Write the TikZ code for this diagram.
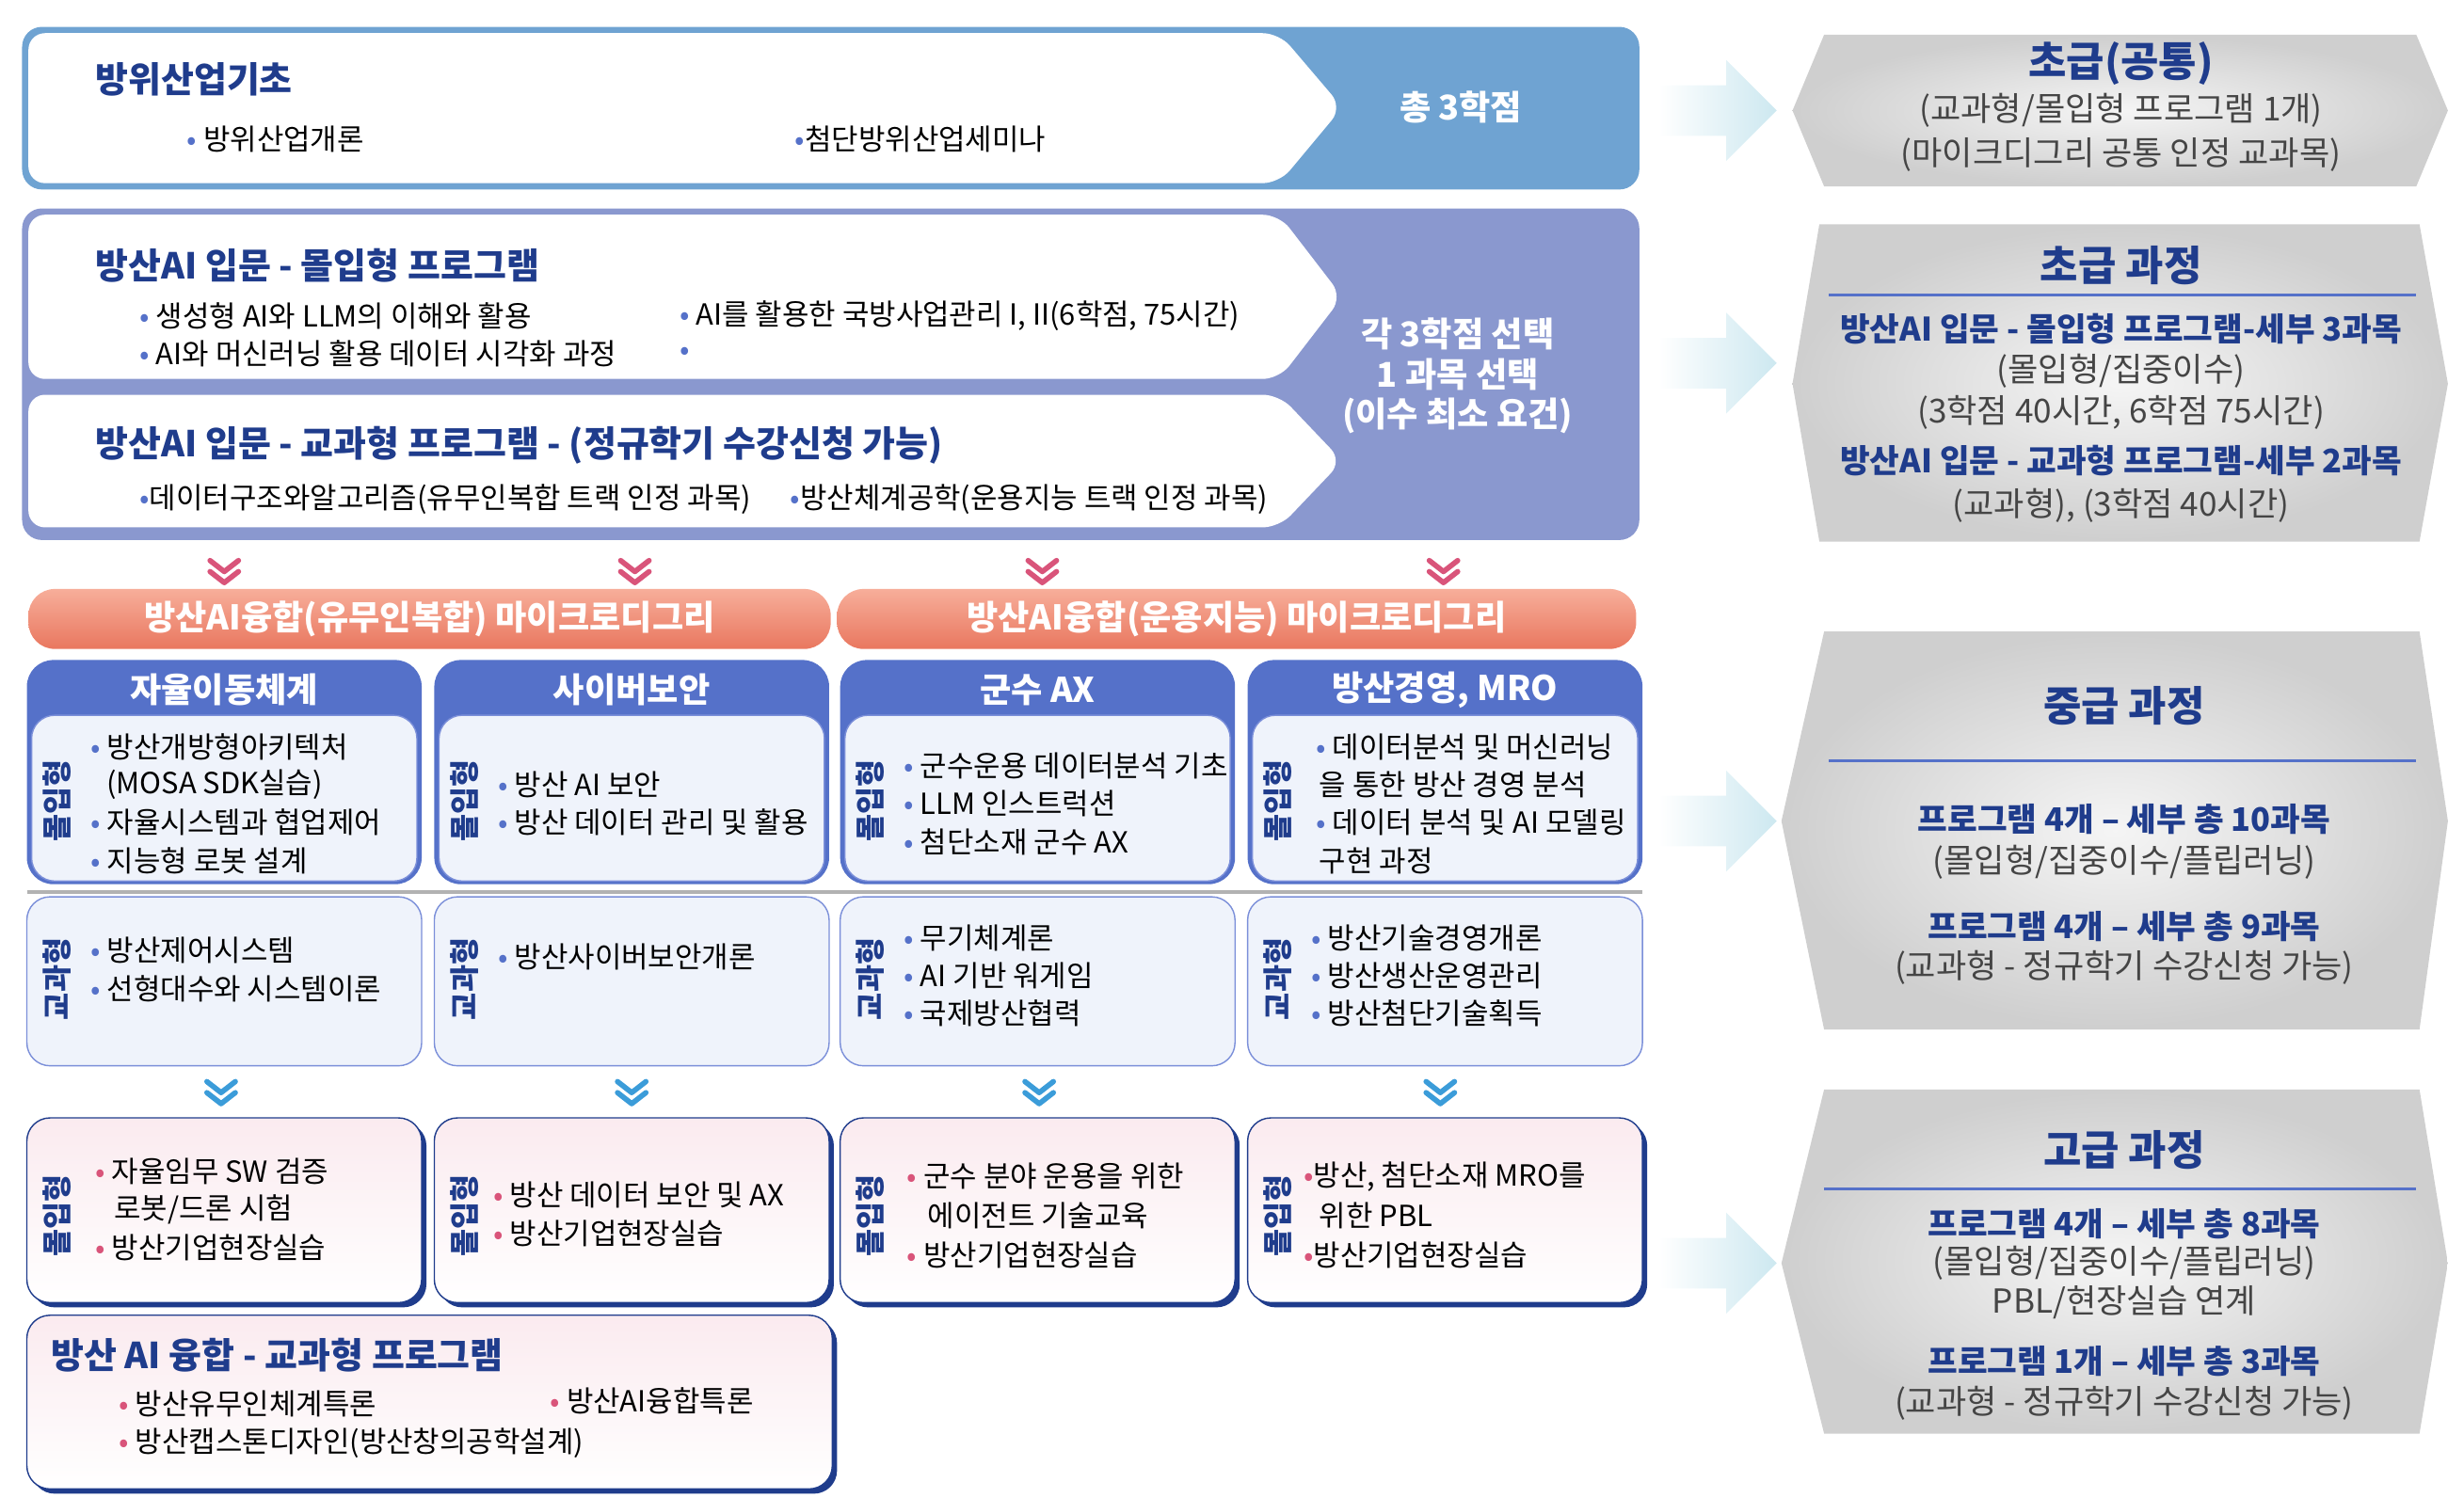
\documentclass[tikz,border=0pt]{standalone}
\usepackage{fontspec}
\setmainfont{Noto Sans CJK KR}
\usetikzlibrary{positioning}
\definecolor{navy}{HTML}{1F3C8C}
\definecolor{boxblue}{HTML}{6FA3D2}
\definecolor{boxpurple}{HTML}{8A98CF}
\definecolor{headblue}{HTML}{5571C9}
\definecolor{salmon}{HTML}{E9775F}
\definecolor{salmonlt}{HTML}{F7AE9A}
\definecolor{lightfill}{HTML}{EFF3FB}
\definecolor{bordblue}{HTML}{7B8FD9}
\definecolor{pinkbul}{HTML}{D9547A}
\definecolor{txtgray}{HTML}{454545}
\definecolor{arrcyan}{HTML}{CDE8F0}
\newcommand{\bl}{{\color{headblue}•}}
\newcommand{\pk}{{\color{pinkbul}•}}
\tikzset{>=latex}
\tikzset{
  txt/.style={anchor=west, inner sep=0pt, font=\fontsize{8.8}{10}\selectfont},
  ttl/.style={anchor=west, inner sep=0pt, text=navy, font=\fontsize{10.8}{12}\selectfont\bfseries},
  rtitle/.style={inner sep=0pt, text=navy, font=\fontsize{12.5}{14}\selectfont\bfseries},
  rbold/.style={inner sep=0pt, text=navy, font=\fontsize{9.8}{11}\selectfont\bfseries},
  rtxt/.style={inner sep=0pt, text=txtgray, font=\fontsize{10}{11}\selectfont},
  vlab/.style={rotate=90, inner sep=0pt, text=navy, font=\fontsize{9}{10}\selectfont\bfseries},
  wtxt/.style={inner sep=0pt, text=white, font=\fontsize{10.3}{12}\selectfont\bfseries},
  hex/.style={inner color=gray!8, outer color=gray!38},
  blockarr/.style={left color=white, right color=arrcyan},
  chev/.style={line width=1.6pt, line cap=round, line join=round},
}
\begin{document}
\begin{tikzpicture}[x=0.01678cm, y=-0.01678cm]
\useasboundingbox (0,0) rectangle (1560.2,948.7);

% upper blocks
\fill[boxblue, rounded corners=6] (14,17) rectangle (1038,120);
\fill[white, rounded corners=5] (18,21) -- (810,21) -- (850,68) -- (810,116) -- (18,116) -- cycle;
\node[ttl] (bas) at (60,50) {방위산업기초};
\node[txt] (bas1) at (118,88) {\bl\ 방위산업개론};
\node[txt] (bas2) at (503,88) {\bl 첨단방위산업세미나};
\node[wtxt] (cr1) at (925,68) {총 3학점};

\fill[boxpurple, rounded corners=6] (14,132) rectangle (1038,342);
\fill[white, rounded corners=5] (18,136) -- (810,136) -- (850,188) -- (810,240) -- (18,240) -- cycle;
\fill[white, rounded corners=5] (18,250) -- (810,250) -- (850,292) -- (810,334) -- (18,334) -- cycle;
\node[ttl] (imm) at (60,168) {방산AI 입문 - 몰입형 프로그램};
\node[txt] (imm1) at (88,200) {\bl\ 생성형 AI와 LLM의 이해와 활용};
\node[txt] (imm2) at (88,224) {\bl\ AI와 머신러닝 활용 데이터 시각화 과정};
\node[txt] (imm3) at (430,200) {\bl\ AI를 활용한 국방사업관리 I, II(6학점, 75시간)};
\node[txt] (imm4) at (430,224) {\bl};
\node[ttl] (cur) at (60,282) {방산AI 입문 - 교과형 프로그램 - (정규학기 수강신청 가능)};
\node[txt] (cur1) at (88,316) {\bl 데이터구조와알고리즘(유무인복합 트랙 인정 과목)};
\node[txt] (cur2) at (500,316) {\bl 방산체계공학(운용지능 트랙 인정 과목)};
\node[wtxt, align=center] (cr2) at (923,238) {각 3학점 선택\\1 과목 선택\\(이수 최소 요건)};

% chevrons
\foreach \cx in {142,402,660,914}{
  \draw[chev, pinkbul] (\cx-9,355) -- (\cx,362) -- (\cx+9,355);
  \draw[chev, pinkbul] (\cx-9,362) -- (\cx,369) -- (\cx+9,362);
}
\foreach \cx in {140,400,658,912}{
  \draw[chev, headblue!70!cyan] (\cx-9,685) -- (\cx,692) -- (\cx+9,685);
  \draw[chev, headblue!70!cyan] (\cx-9,692) -- (\cx,699) -- (\cx+9,692);
}

% micro degree bars
\shade[top color=salmonlt, bottom color=salmon, rounded corners=8] (18,373) rectangle (526,411);
\shade[top color=salmonlt, bottom color=salmon, rounded corners=8] (530,373) rectangle (1036,411);
\node[wtxt] (md1) at (272,392) {방산AI융합(유무인복합) 마이크로디그리};
\node[wtxt] (md2) at (783,392) {방산AI융합(운용지능) 마이크로디그리};

% track columns
\foreach \x/\name in {17/자율이동체계, 275/사이버보안, 532/군수 AX, 790/{방산경영, MRO}}{
  \fill[headblue, rounded corners=8] (\x,418) rectangle (\x+250,560);
  \filldraw[fill=lightfill, draw=bordblue, rounded corners=7] (\x+3,453) rectangle (\x+247,558);
  \node[wtxt] at (\x+125,437) {\name};
  \node[vlab] at (\x+19,507) {몰입형};
  \filldraw[fill=lightfill, draw=bordblue, rounded corners=7] (\x,568) rectangle (\x+250,675);
  \node[vlab] at (\x+19,620) {교과형};
  \fill[navy, rounded corners=7] (\x+3,711) rectangle (\x+253,828);
  \shade[top color=pinkbul!12, bottom color=white, draw=navy, rounded corners=7] (\x,708) rectangle (\x+250,825);
  \node[vlab] at (\x+19,770) {몰입형};
}
\draw[gray!60, line width=1.2pt] (17,565) -- (1040,565);

\node[txt] (a1) at (57,473) {\bl\ 방산개방형아키텍처};
\node[txt] (a2) at (67,497) {(MOSA SDK실습)};
\node[txt] (a3) at (57,521) {\bl\ 자율시스템과 협업제어};
\node[txt] (a4) at (57,545) {\bl\ 지능형 로봇 설계};
\node[txt] (b1) at (315,497) {\bl\ 방산 AI 보안};
\node[txt] (b2) at (315,521) {\bl\ 방산 데이터 관리 및 활용};
\node[txt] (c1) at (572,485) {\bl\ 군수운용 데이터분석 기초};
\node[txt] (c2) at (572,509) {\bl\ LLM 인스트럭션};
\node[txt] (c3) at (572,533) {\bl\ 첨단소재 군수 AX};
\node[txt] (d1) at (833,473) {\bl\ 데이터분석 및 머신러닝};
\node[txt] (d2) at (835,497) {을 통한 방산 경영 분석};
\node[txt] (d3) at (833,521) {\bl\ 데이터 분석 및 AI 모델링};
\node[txt] (d4) at (835,545) {구현 과정};

\node[txt] (a5) at (57,602) {\bl\ 방산제어시스템};
\node[txt] (a6) at (57,626) {\bl\ 선형대수와 시스템이론};
\node[txt] (b3) at (315,606) {\bl\ 방산사이버보안개론};
\node[txt] (c4) at (572,594) {\bl\ 무기체계론};
\node[txt] (c5) at (572,618) {\bl\ AI 기반 워게임};
\node[txt] (c6) at (572,642) {\bl\ 국제방산협력};
\node[txt] (d5) at (830,594) {\bl\ 방산기술경영개론};
\node[txt] (d6) at (830,618) {\bl\ 방산생산운영관리};
\node[txt] (d7) at (830,642) {\bl\ 방산첨단기술획득};

\node[txt] (a7) at (60,742) {\pk\ 자율임무 SW 검증};
\node[txt] (a8) at (72,766) {로봇/드론 시험};
\node[txt] (a9) at (60,790) {\pk\ 방산기업현장실습};
\node[txt] (b4) at (312,757) {\pk\ 방산 데이터 보안 및 AX};
\node[txt] (b5) at (312,781) {\pk\ 방산기업현장실습};
\node[txt] (c7) at (574,745) {\pk\ 군수 분야 운용을 위한};
\node[txt] (c8) at (587,770) {에이전트 기술교육};
\node[txt] (c9) at (574,795) {\pk\ 방산기업현장실습};
\node[txt] (d8) at (825,745) {\pk 방산, 첨단소재 MRO를};
\node[txt] (d9) at (835,770) {위한 PBL};
\node[txt] (d10) at (825,795) {\pk 방산기업현장실습};

% fusion curriculum box
\fill[navy, rounded corners=7] (20,836) rectangle (530,946);
\shade[top color=pinkbul!12, bottom color=white, draw=navy, rounded corners=7] (17,833) rectangle (527,943);
\node[ttl] (fus) at (32,858) {방산 AI 융합 - 교과형 프로그램};
\node[txt] (fus1) at (75,889) {\pk\ 방산유무인체계특론};
\node[txt] (fus2) at (348,887) {\pk\ 방산AI융합특론};
\node[txt] (fus3) at (75,914) {\pk\ 방산캡스톤디자인(방산창의공학설계)};

% block arrows
\foreach \cy in {70,230,520,800}{
  \shade[blockarr] (1050,\cy-16) -- (1093,\cy-16) -- (1093,\cy-32) -- (1125,\cy) -- (1093,\cy+32) -- (1093,\cy+16) -- (1050,\cy+16) -- cycle;
}

% level hexagons
\shade[hex] (1135,70) -- (1155,22) -- (1530,22) -- (1550,70) -- (1530,118) -- (1155,118) -- cycle;
\node[rtitle] (l1) at (1343,40) {초급(공통)};
\node[rtxt] (l1a) at (1343,70) {(교과형/몰입형 프로그램 1개)};
\node[rtxt] (l1b) at (1343,98) {(마이크디그리 공통 인정 교과목)};

\shade[hex] (1135,243) -- (1152,142) -- (1532,142) -- (1550,243) -- (1532,343) -- (1152,343) -- cycle;
\node[rtitle] (l2) at (1343,168) {초급 과정};
\draw[headblue, line width=0.8pt] (1158,187) -- (1530,187);
\node[rbold] (l2a) at (1343,208) {방산AI 입문 - 몰입형 프로그램-세부 3과목};
\node[rtxt] (l2b) at (1343,235) {(몰입형/집중이수)};
\node[rtxt] (l2c) at (1343,261) {(3학점 40시간, 6학점 75시간)};
\node[rbold] (l2d) at (1343,292) {방산AI 입문 - 교과형 프로그램-세부 2과목};
\node[rtxt] (l2e) at (1343,320) {(교과형), (3학점 40시간)};

\shade[hex] (1128,520) -- (1155,400) -- (1532,400) -- (1550,520) -- (1532,652) -- (1155,652) -- cycle;
\node[rtitle] (l3) at (1345,447) {중급 과정};
\draw[headblue, line width=0.8pt] (1158,482) -- (1530,482);
\node[rbold] (l3a) at (1345,519) {프로그램 4개 – 세부 총 10과목};
\node[rtxt] (l3b) at (1345,546) {(몰입형/집중이수/플립러닝)};
\node[rbold] (l3c) at (1345,587) {프로그램 4개 – 세부 총 9과목};
\node[rtxt] (l3d) at (1345,613) {(교과형 - 정규학기 수강신청 가능)};

\shade[hex] (1128,800) -- (1155,690) -- (1532,690) -- (1550,800) -- (1532,908) -- (1155,908) -- cycle;
\node[rtitle] (l4) at (1345,728) {고급 과정};
\draw[headblue, line width=0.8pt] (1155,753) -- (1530,753);
\node[rbold] (l4a) at (1345,775) {프로그램 4개 – 세부 총 8과목};
\node[rtxt] (l4b) at (1345,800) {(몰입형/집중이수/플립러닝)};
\node[rtxt] (l4c) at (1345,825) {PBL/현장실습 연계};
\node[rbold] (l4d) at (1345,862) {프로그램 1개 – 세부 총 3과목};
\node[rtxt] (l4e) at (1345,889) {(교과형 - 정규학기 수강신청 가능)};
\end{tikzpicture}
\end{document}
